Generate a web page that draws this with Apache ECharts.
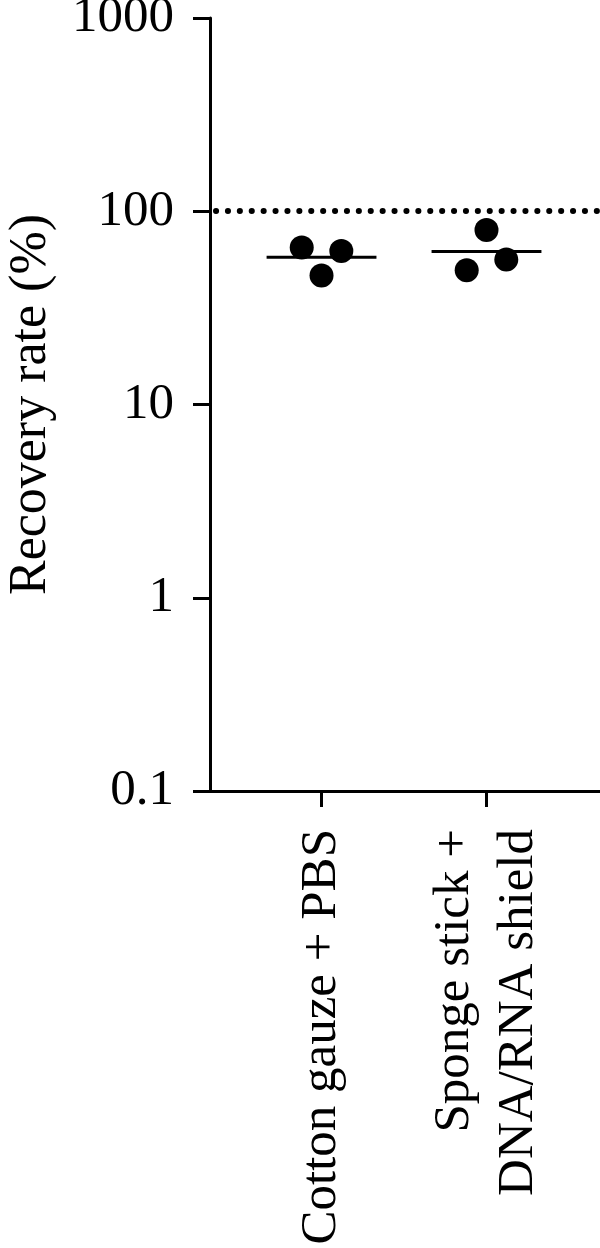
<!DOCTYPE html>
<html>
<head>
<meta charset="utf-8">
<script src="https://cdn.jsdelivr.net/npm/echarts@6/dist/echarts.min.js"></script>
<style>
html,body{margin:0;padding:0;background:#fff;}
#chart{width:600px;height:1248px;}
</style>
</head>
<body>
<div id="chart"></div>
<script>
// Data
var categories = ['Cotton gauze + PBS', 'Sponge stick +\nDNA/RNA shield'];
// replicate values, ordered left, centre, right within each group
var cottonValues = [64.9, 46.5, 62.3];
var spongeValues = [49.5, 80.0, 56.2];
var groupMeans = [57.8, 61.9];
var referenceLevel = [100];
var yTicks = [0.1, 1, 10, 100, 1000];
var jitter = [-0.12, 0, 0.12];

var groups = [cottonValues, spongeValues];
var FONT = "'Liberation Serif', 'Times New Roman', serif";

var scatterData = [];
groups.forEach(function (vals, gi) {
  vals.forEach(function (v, k) { scatterData.push([gi + jitter[k], v]); });
});

var meanSeries = groupMeans.map(function (m, gi) {
  return {
    type: 'line',
    data: [[gi - 0.333, m], [gi + 0.333, m]],
    symbol: 'none',
    lineStyle: { color: '#000', width: 3 },
    silent: true,
    z: 3
  };
});

var chart = echarts.init(document.getElementById('chart'), null, { renderer: 'canvas' });
chart.setOption({
  animation: false,
  backgroundColor: '#fff',
  grid: { left: 210, right: 0, top: 18, bottom: 457, containLabel: false, outerBoundsMode: 'none' },
  xAxis: {
    type: 'value',
    min: -0.676,
    max: 1.688,
    splitLine: { show: false },
    axisLine: { show: true, onZero: false, lineStyle: { color: '#000', width: 3 } },
    axisTick: { show: true, customValues: [0, 1], length: 16, lineStyle: { color: '#000', width: 3 } },
    axisLabel: {
      show: true,
      customValues: [0, 1],
      rotate: 90,
      margin: 38,
      fontFamily: FONT,
      fontSize: 51,
      lineHeight: 64,
      color: '#000',
      formatter: function (v) { return categories[Math.round(v)]; }
    }
  },
  yAxis: {
    type: 'log',
    logBase: 10,
    min: yTicks[0],
    max: yTicks[yTicks.length - 1],
    name: 'Recovery rate (%)',
    nameLocation: 'middle',
    nameGap: 153,
    nameRotate: 90,
    nameTextStyle: { fontFamily: FONT, fontSize: 52, color: '#000' },
    splitLine: { show: false },
    minorTick: { show: false },
    axisLine: { show: true, onZero: false, lineStyle: { color: '#000', width: 3 } },
    axisTick: { show: true, length: 17, lineStyle: { color: '#000', width: 3 } },
    axisLabel: {
      margin: 36,
      fontFamily: FONT,
      fontSize: 51,
      color: '#000',
      formatter: function (v) { return String(+v.toPrecision(3)); }
    }
  },
  series: [
    {
      type: 'scatter',
      data: scatterData,
      symbol: 'circle',
      symbolSize: 24,
      itemStyle: { color: '#000', opacity: 1 },
      z: 4,
      markLine: {
        silent: true,
        symbol: ['none', 'none'],
        label: { show: false },
        lineStyle: { color: '#000', width: 6, type: [0.1, 11.8], cap: 'round', dashOffset: -6, opacity: 1 },
        data: referenceLevel.map(function (r) { return { yAxis: r }; })
      }
    }
  ].concat(meanSeries)
});
</script>
</body>
</html>
